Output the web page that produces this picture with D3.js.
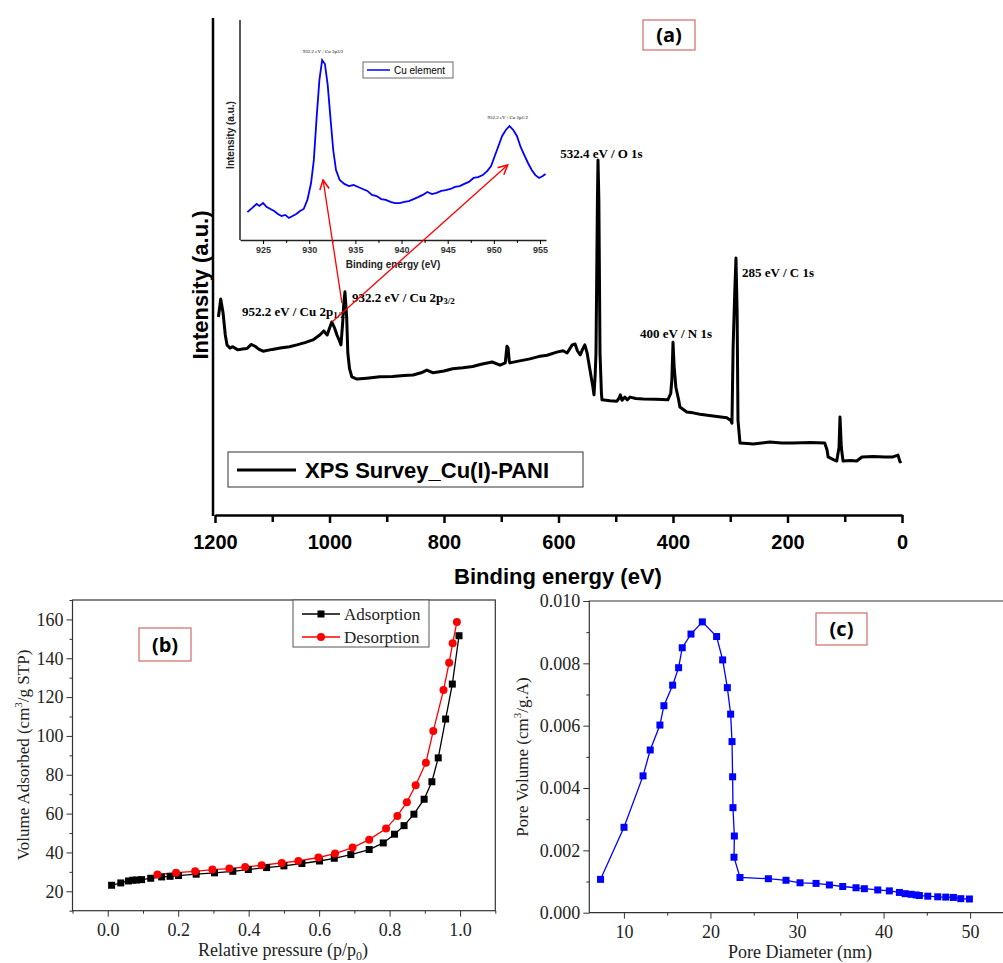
<!DOCTYPE html>
<html>
<head>
<meta charset="utf-8">
<script src="https://cdn.jsdelivr.net/npm/d3@7"></script>
<style>
body { margin: 0; background: #fff; }
svg { display: block; }
</style>
</head>
<body>
<div id="fig"></div>
<script>
// (a) XPS survey: binding energy (eV) / intensity (a.u.)
var surveyEnergy = [1194,1190,1186,1182,1179,1174,1169,1160,1152,1144,1137,1130,1123,1116,1100,1086,1070,1057,1043,1029,1017,1010,1004,1000,996,991,987,982,980,977,975,973,970,968,965,961,952,935,912,890,870,854,840,830,819,800,785,767,750,735,716,702,693,690,688,686,685,670,650,635,620,603,592,585,576,571,567,562,558,554,550,545,540,538,536,534.5,532,531,529.5,527.5,525,524,510,498,494,492,489,484,480,475,465,452,430,409,404,402,400,398,395,390,388,376,365,353,330,306,299,297,295,292,290,288,286.5,283,270,260,245,231,210,190,160,135,131,129,120,114,110,108.3,106,103,90,79,70,50,30,16,7,3.5,1];
var surveyCounts = [44,48,45,40,37.8,37.1,37.4,36.7,36.9,37,37.9,37.5,36.8,36.4,36.8,37.1,37.4,37.8,38.3,38.9,40,40.9,40,41.5,42.9,41.5,40,38.5,37.8,42.7,47,49.6,44,36,32.5,30.7,30.2,30.4,30.7,30.8,31,31.1,31.6,32.2,31.6,32,32.5,32.7,33,33.5,34,33.3,33.8,37.5,37.1,34.2,33.8,34.2,34.7,35.2,35.5,36.2,36.5,36,37.8,38,36.5,35.6,36.8,37.8,36,32.2,28.5,26.7,31,36,70,78.9,70,36,27,25.6,25.4,25.3,26,26.7,25.5,26.2,25.6,26.2,25.9,25.8,25.7,25.6,27,30,38.4,33,28.4,25.5,24,22.9,22.7,22.4,22,21.6,21,20.4,37.3,50,57.1,45,21.1,16,15.9,15.8,16,16.2,16,16,16.1,16,14.5,12.9,12.3,12,15,21.8,15,12,12.1,12,12.9,13,12.9,12.9,13.3,11.8,12];
var surveyTicks = [1200,1000,800,600,400,200,0];

// inset: Cu 2p region
var cuEnergy = [923.3,923.8,924.3,924.6,925,925.4,925.8,926.2,926.6,927,927.4,927.8,928.2,928.6,929,929.4,929.8,930.2,930.5,930.8,931.1,931.4,931.7,932,932.3,932.6,932.9,933.3,933.8,934.3,934.8,935.3,935.8,936.3,936.8,937.3,937.8,938.3,938.8,939.3,939.8,940.3,940.8,941.3,941.8,942.3,942.8,943.3,943.8,944.3,944.8,945.3,945.8,946.3,946.8,947.3,947.8,948.3,948.8,949.3,949.7,950.1,950.5,950.9,951.3,951.7,952.1,952.5,952.9,953.3,953.7,954.1,954.5,954.9,955.3,955.6];
var cuCounts = [12.7,14.5,16.4,15.5,16.8,15,14.1,13.2,11.8,10.9,11.4,10,10.9,11.8,13.2,14.1,18.2,25.9,36.4,55.5,72.7,81.8,80,70.5,55.5,40.9,31.8,27.3,25.5,24.5,25,24.1,23.2,22.3,20.5,20,18.6,18.2,17.3,16.8,16.8,17.3,17.7,18.6,19.5,20.5,21.8,20.9,21.4,22.3,22.7,23.2,24.1,24.5,25.5,26.4,28.2,28.6,29.5,31.4,33.6,38.2,42.7,47.3,50,51.8,50,47.3,42.3,38.6,35,31.8,29.5,28.2,29.1,30];
var insetTicks = [925,930,935,940,945,950,955];

// (b) N2 isotherm
var adsPressure = [0.011,0.037,0.059,0.071,0.082,0.096,0.122,0.153,0.177,0.201,0.251,0.303,0.355,0.399,0.451,0.5,0.551,0.601,0.643,0.69,0.742,0.782,0.814,0.841,0.869,0.898,0.92,0.938,0.959,0.978,0.997];
var adsVolume = [23.1,24.3,25.3,25.7,25.8,26,26.7,27.4,27.7,28.1,28.8,29.5,30.3,31.2,32.2,33.1,34.3,35.6,37,38.9,41.5,44.9,49.4,53.8,59.7,67.4,76.4,88.7,108.7,126.7,151.6];
var desPressure = [0.991,0.979,0.969,0.953,0.924,0.903,0.874,0.849,0.822,0.79,0.742,0.695,0.645,0.598,0.541,0.494,0.437,0.39,0.345,0.297,0.248,0.194,0.141];
var desVolume = [158.7,147.7,137.7,123.6,102.6,86.2,74.6,65.9,58.8,52.3,46.6,42.5,39.4,37.4,35.6,34.6,33.4,32.5,31.7,31.2,30.3,29.6,28.6];
var bTicksX = [0,0.2,0.4,0.6,0.8,1.0];
var bTicksY = [20,40,60,80,100,120,140,160];

// (c) pore size distribution
var poreDiameter = [7.3,10.01,12.21,13.04,14.16,14.62,15.63,16.32,16.74,17.75,19.06,20.71,21.41,21.95,22.33,22.49,22.56,22.6,22.76,22.72,23.41,26.69,28.73,30.35,32.2,33.74,35.28,36.82,37.78,39.33,40.67,41.83,42.49,43.18,43.76,44.14,45.11,46.26,47.19,48.07,48.92,49.92];
var poreVolume = [0.00107,0.00274,0.00439,0.00522,0.00602,0.00664,0.0073,0.00786,0.0085,0.00894,0.00933,0.00886,0.00811,0.00722,0.00637,0.00549,0.00436,0.00337,0.00246,0.00178,0.00113,0.00109,0.00104,0.00096,0.00094,0.00089,0.00084,0.0008,0.00077,0.00073,0.0007,0.00065,0.00061,0.00059,0.00057,0.00055,0.00053,0.00051,0.0005,0.00049,0.00045,0.00044];
var cTicksX = [10,20,30,40,50];
var cTicksY = [0,0.002,0.004,0.006,0.008,0.010];

var sans = "'Liberation Sans', Arial, sans-serif";
var serif = "'Liberation Serif', 'Times New Roman', serif";

var svg = d3.select("#fig").append("svg")
    .attr("width", 1003)
    .attr("height", 963);

// little helper for a red-bordered panel tag
function panelTag(x0, y0, w, h, txt) {
    svg.append("rect").attr("x", x0).attr("y", y0).attr("width", w).attr("height", h)
        .attr("fill", "#fff").attr("stroke", "#d46a6a").attr("stroke-width", 1.2);
    svg.append("text").attr("x", x0 + w / 2).attr("y", y0 + h / 2 + 7)
        .attr("text-anchor", "middle").attr("font-family", "'Open Sans', 'DejaVu Sans', sans-serif")
        .attr("font-weight", "bold").attr("font-size", 20).text(txt);
}

//================ (a) main survey =================
var x = d3.scaleLinear().domain([1200, 0]).range([215, 902]);
var y = d3.scaleLinear().domain([0, 110]).range([515, 20]);

var gA = svg.append("g");
gA.append("line").attr("x1", 213).attr("x2", 213).attr("y1", 18).attr("y2", 516)
    .attr("stroke", "#000").attr("stroke-width", 2.5);

var axA = gA.append("g").attr("transform", "translate(0,515)")
    .call(d3.axisBottom(x).tickValues(surveyTicks).tickFormat(d3.format("d")).tickSize(8).tickPadding(12).tickSizeOuter(0));
gA.append("g").attr("transform", "translate(0,515)")
    .call(d3.axisBottom(x).tickValues([1100, 900, 700, 500, 300, 100]).tickSize(7).tickFormat(""))
    .select(".domain").remove();
gA.selectAll(".tick line").attr("stroke-width", 2.5);
axA.select(".domain").attr("stroke-width", 2.5);
axA.selectAll("text").attr("font-family", sans).attr("font-weight", "bold").attr("font-size", 20).attr("fill", "#000");

gA.append("text").attr("x", 558).attr("y", 584).attr("text-anchor", "middle")
    .attr("font-family", sans).attr("font-weight", "bold").attr("font-size", 22).text("Binding energy (eV)");
gA.append("text").attr("transform", "translate(208,285) rotate(-90)").attr("text-anchor", "middle")
    .attr("font-family", sans).attr("font-weight", "bold").attr("font-size", 22).text("Intensity (a.u.)");

var surveyLine = d3.line().x(function(d, i) { return x(surveyEnergy[i]); }).y(function(d) { return y(d); });
gA.append("path").datum(surveyCounts).attr("d", surveyLine)
    .attr("fill", "none").attr("stroke", "#000").attr("stroke-width", 3).attr("stroke-linejoin", "round");

// peak labels
var peakLabels = [
    {be: 597, v: 79.3, t: "532.4 eV / O 1s"},
    {be: 279.5, v: 52.9, t: "285 eV / C 1s"},
    {be: 457.6, v: 39.3, t: "400 eV / N 1s"}
];
peakLabels.forEach(function(p) {
    gA.append("text").attr("x", x(p.be)).attr("y", y(p.v)).attr("font-family", serif)
        .attr("font-weight", "bold").attr("font-size", 13).text(p.t);
});
var cu1 = gA.append("text").attr("x", x(1152.8)).attr("y", y(44.2)).attr("font-family", serif)
    .attr("font-weight", "bold").attr("font-size", 13).text("952.2 eV / Cu 2p");
cu1.append("tspan").attr("font-size", 9).attr("dy", 2).text("1/2");
var cu2 = gA.append("text").attr("x", x(960.7)).attr("y", y(47.3)).attr("font-family", serif)
    .attr("font-weight", "bold").attr("font-size", 13).text("932.2 eV / Cu 2p");
cu2.append("tspan").attr("font-size", 9).attr("dy", 2).text("3/2");

// legend
gA.append("rect").attr("x", 228).attr("y", 452).attr("width", 355).attr("height", 35)
    .attr("fill", "#fff").attr("stroke", "#333").attr("stroke-width", 1);
gA.append("line").attr("x1", 237).attr("x2", 296).attr("y1", 470).attr("y2", 470)
    .attr("stroke", "#000").attr("stroke-width", 3);
gA.append("text").attr("x", 305).attr("y", 478).attr("font-family", sans).attr("font-weight", "bold")
    .attr("font-size", 22).text("XPS Survey_Cu(I)-PANI");

panelTag(643, 20, 52, 30, "(a)");

//================ inset =================
var xi = d3.scaleLinear().domain([922.5, 955.65]).range([240, 546]);
var yi = d3.scaleLinear().domain([0, 100]).range([240, 20]);
var gI = svg.append("g");
gI.append("line").attr("x1", 240).attr("x2", 240).attr("y1", 20).attr("y2", 240)
    .attr("stroke", "#222").attr("stroke-width", 1.5);
var axI = gI.append("g").attr("transform", "translate(0,240)")
    .call(d3.axisBottom(xi).tickValues(insetTicks).tickSize(4).tickPadding(3).tickSizeOuter(0));
gI.append("g").attr("transform", "translate(0,240)")
    .call(d3.axisBottom(xi).tickValues([927.5, 932.5, 937.5, 942.5, 947.5, 952.5]).tickSize(3).tickFormat(""))
    .select(".domain").remove();
axI.select(".domain").attr("stroke", "#222").attr("stroke-width", 1.5);
axI.selectAll("text").attr("font-family", sans).attr("font-size", 9).attr("font-weight", "bold").attr("fill", "#333");
gI.append("text").attr("x", 393).attr("y", 268).attr("text-anchor", "middle").attr("font-family", sans)
    .attr("font-weight", "bold").attr("font-size", 10).attr("fill", "#222").text("Binding energy (eV)");
gI.append("text").attr("transform", "translate(234,135) rotate(-90)").attr("text-anchor", "middle")
    .attr("font-family", sans).attr("font-weight", "bold").attr("font-size", 10).attr("fill", "#222").text("Intensity (a.u.)");

var cuLine = d3.line().x(function(d, i) { return xi(cuEnergy[i]); }).y(function(d) { return yi(d); });
gI.append("path").datum(cuCounts).attr("d", cuLine)
    .attr("fill", "none").attr("stroke", "#0000ff").attr("stroke-width", 1.8);

gI.append("text").attr("x", xi(931.5)).attr("y", yi(85)).attr("text-anchor", "middle")
    .attr("font-family", serif).attr("font-size", 5).text("932.2 eV / Cu 2p3/2");
gI.append("text").attr("x", xi(951.5)).attr("y", yi(55)).attr("text-anchor", "middle")
    .attr("font-family", serif).attr("font-size", 5).text("952.2 eV / Cu 2p1/2");

gI.append("rect").attr("x", 363).attr("y", 62).attr("width", 90).attr("height", 16)
    .attr("fill", "#fff").attr("stroke", "#444").attr("stroke-width", 0.8);
gI.append("line").attr("x1", 367).attr("x2", 390).attr("y1", 70).attr("y2", 70)
    .attr("stroke", "#0000ff").attr("stroke-width", 1.5);
gI.append("text").attr("x", 394).attr("y", 74).attr("font-family", sans).attr("font-size", 10).text("Cu element");

// red arrows from survey peaks up to the inset
svg.append("defs").append("marker").attr("id", "arr").attr("viewBox", "0 0 10 10")
    .attr("refX", 9).attr("refY", 5).attr("markerWidth", 9).attr("markerHeight", 9)
    .attr("orient", "auto")
    .append("path").attr("d", "M1,1 L9,5 L1,9").attr("fill", "none").attr("stroke", "#ff0000").attr("stroke-width", 1.3);
var arrows = [
    {be: 978.2, v: 47.1, toE: 931.5, toV: 27.3},
    {be: 995.6, v: 42.9, toE: 951.5, toV: 34.1}
];
arrows.forEach(function(a) {
    svg.append("line").attr("x1", x(a.be)).attr("y1", y(a.v)).attr("x2", xi(a.toE)).attr("y2", yi(a.toV))
        .attr("stroke", "#ff0000").attr("stroke-width", 1.3).attr("marker-end", "url(#arr)");
});

//================ (b) isotherm =================
var xb = d3.scaleLinear().domain([-0.1, 1.1]).range([72.5, 495.3]);
var yb = d3.scaleLinear().domain([10, 170]).range([910.7, 600]);
var gB = svg.append("g");
gB.append("rect").attr("x", 72.5).attr("y", 600).attr("width", 422.8).attr("height", 310.7)
    .attr("fill", "none").attr("stroke", "#333").attr("stroke-width", 1.2);

var bx = gB.append("g").attr("transform", "translate(0,910.7)")
    .call(d3.axisBottom(xb).tickValues(bTicksX).tickFormat(d3.format(".1f")).tickSize(6).tickPadding(7));
gB.append("g").attr("transform", "translate(0,910.7)")
    .call(d3.axisBottom(xb).tickValues([-0.1, 0.1, 0.3, 0.5, 0.7, 0.9, 1.1]).tickSize(3).tickFormat(""));
var by = gB.append("g").attr("transform", "translate(72.5,0)")
    .call(d3.axisLeft(yb).tickValues(bTicksY).tickSize(6).tickPadding(3));
gB.append("g").attr("transform", "translate(72.5,0)")
    .call(d3.axisLeft(yb).tickValues([10, 30, 50, 70, 90, 110, 130, 150, 170]).tickSize(3).tickFormat(""));
gB.selectAll(".domain").remove();
gB.selectAll("text").attr("font-family", serif).attr("font-size", 18).attr("fill", "#222");
gB.selectAll(".tick line").attr("stroke", "#333");

var tb = gB.append("text").attr("x", 283).attr("y", 956).attr("text-anchor", "middle")
    .attr("font-family", serif).attr("font-size", 18).attr("fill", "#222").text("Relative pressure (p/p");
tb.append("tspan").attr("font-size", 12).attr("dy", 4).text("0");
tb.append("tspan").attr("dy", -4).text(")");
var tby = gB.append("text").attr("transform", "translate(29,755) rotate(-90)").attr("text-anchor", "middle")
    .attr("font-family", serif).attr("font-size", 17).attr("fill", "#222").text("Volume Adsorbed (cm");
tby.append("tspan").attr("font-size", 11).attr("dy", -7).text("3");
tby.append("tspan").attr("dy", 7).text("/g STP)");

var adsLine = d3.line().x(function(d, i) { return xb(adsPressure[i]); }).y(function(d) { return yb(d); });
var desLine = d3.line().x(function(d, i) { return xb(desPressure[i]); }).y(function(d) { return yb(d); });
gB.append("path").datum(adsVolume).attr("d", adsLine).attr("fill", "none").attr("stroke", "#000").attr("stroke-width", 1.3);
gB.append("path").datum(desVolume).attr("d", desLine).attr("fill", "none").attr("stroke", "#ff0000").attr("stroke-width", 1.3);
gB.selectAll(".ads").data(adsVolume).enter().append("rect")
    .attr("x", function(d, i) { return xb(adsPressure[i]) - 3.5; })
    .attr("y", function(d) { return yb(d) - 3.5; })
    .attr("width", 7).attr("height", 7).attr("fill", "#000");
gB.selectAll(".des").data(desVolume).enter().append("circle")
    .attr("cx", function(d, i) { return xb(desPressure[i]); })
    .attr("cy", function(d) { return yb(d); })
    .attr("r", 4).attr("fill", "#ff0000");

// legend (b)
gB.append("rect").attr("x", 293).attr("y", 600).attr("width", 136).attr("height", 47)
    .attr("fill", "#fff").attr("stroke", "#555").attr("stroke-width", 1);
gB.append("line").attr("x1", 302).attr("x2", 340).attr("y1", 614).attr("y2", 614).attr("stroke", "#000").attr("stroke-width", 1.3);
gB.append("rect").attr("x", 317.5).attr("y", 610.5).attr("width", 7).attr("height", 7).attr("fill", "#000");
gB.append("text").attr("x", 344).attr("y", 620).attr("font-family", serif).attr("font-size", 17).attr("fill", "#222").text("Adsorption");
gB.append("line").attr("x1", 302).attr("x2", 340).attr("y1", 637).attr("y2", 637).attr("stroke", "#ff0000").attr("stroke-width", 1.3);
gB.append("circle").attr("cx", 321).attr("cy", 637).attr("r", 4).attr("fill", "#ff0000");
gB.append("text").attr("x", 344).attr("y", 643).attr("font-family", serif).attr("font-size", 17).attr("fill", "#222").text("Desorption");

panelTag(139, 628, 52, 33, "(b)");

//================ (c) pore distribution =================
var xc = d3.scaleLinear().domain([6, 53.8]).range([589.3, 1003]);
var yc = d3.scaleLinear().domain([0, 0.010]).range([912.7, 601]);
var gC = svg.append("g");
gC.append("path").attr("d", "M1003,601 H589.3 V912.7 H1003")
    .attr("fill", "none").attr("stroke", "#333").attr("stroke-width", 1.2);
gC.append("g").attr("transform", "translate(0,912.7)")
    .call(d3.axisBottom(xc).tickValues(cTicksX).tickSize(6).tickPadding(7));
gC.append("g").attr("transform", "translate(0,912.7)")
    .call(d3.axisBottom(xc).tickValues([15, 25, 35, 45]).tickSize(3).tickFormat(""));
gC.append("g").attr("transform", "translate(589.3,0)")
    .call(d3.axisLeft(yc).tickValues(cTicksY).tickFormat(d3.format(".3f")).tickSize(6).tickPadding(3));
gC.append("g").attr("transform", "translate(589.3,0)")
    .call(d3.axisLeft(yc).tickValues([0.001, 0.003, 0.005, 0.007, 0.009]).tickSize(3).tickFormat(""));
gC.selectAll(".domain").remove();
gC.selectAll("text").attr("font-family", serif).attr("font-size", 18).attr("fill", "#222");
gC.selectAll(".tick line").attr("stroke", "#333");

gC.append("text").attr("x", 800).attr("y", 958).attr("text-anchor", "middle")
    .attr("font-family", serif).attr("font-size", 18).attr("fill", "#222").text("Pore Diameter (nm)");
var tcy = gC.append("text").attr("transform", "translate(528,757) rotate(-90)").attr("text-anchor", "middle")
    .attr("font-family", serif).attr("font-size", 17).attr("fill", "#222").text("Pore Volume (cm");
tcy.append("tspan").attr("font-size", 11).attr("dy", -7).text("3");
tcy.append("tspan").attr("dy", 7).text("/g.A)");

var poreLine = d3.line().x(function(d, i) { return xc(poreDiameter[i]); }).y(function(d) { return yc(d); });
gC.append("path").datum(poreVolume).attr("d", poreLine).attr("fill", "none").attr("stroke", "#0000ff").attr("stroke-width", 1.3);
gC.selectAll(".pv").data(poreVolume).enter().append("rect")
    .attr("x", function(d, i) { return xc(poreDiameter[i]) - 3.5; })
    .attr("y", function(d) { return yc(d) - 3.5; })
    .attr("width", 7).attr("height", 7).attr("fill", "#0000ff");

panelTag(816, 613, 51, 32, "(c)");
</script>
</body>
</html>
